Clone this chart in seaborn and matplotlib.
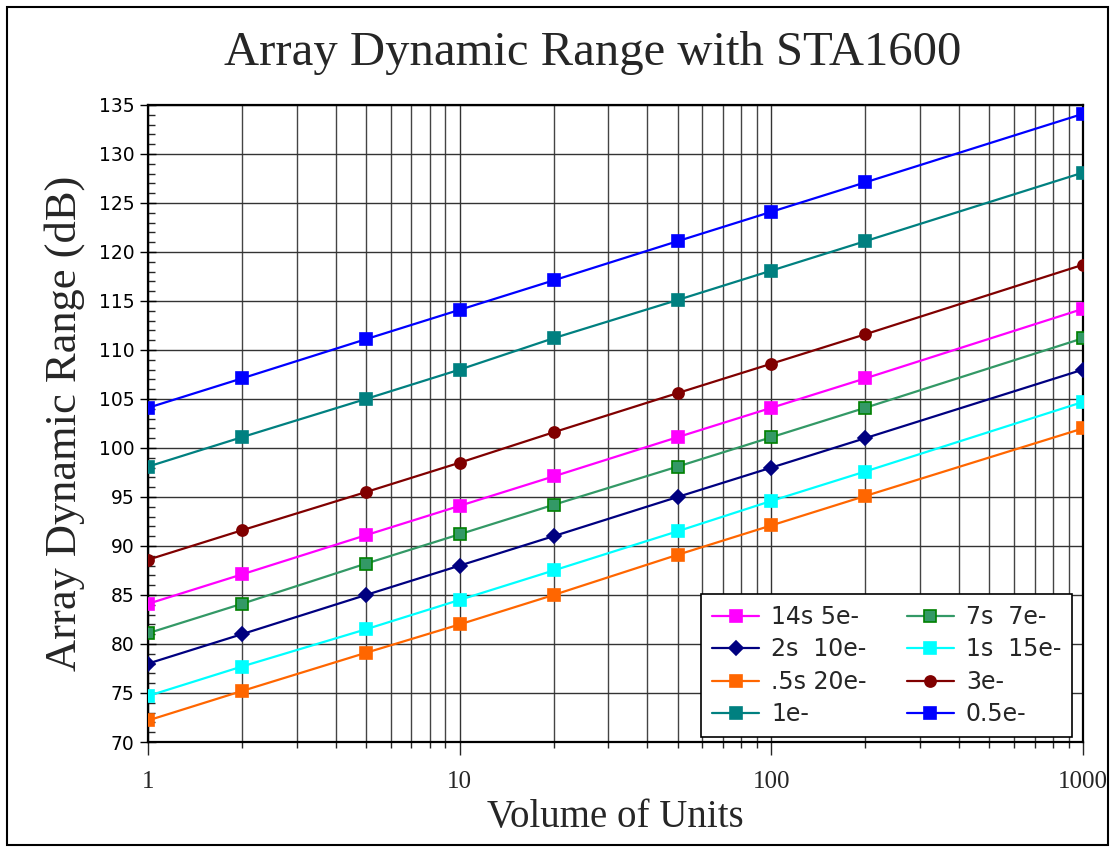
import matplotlib
matplotlib.use("Agg")
import matplotlib.pyplot as plt
import seaborn as sns
import pandas as pd
from matplotlib.ticker import LogLocator, FixedLocator, MultipleLocator, NullFormatter, FixedFormatter
from matplotlib.patches import Rectangle

units = [1, 2, 5, 10, 20, 50, 100, 200, 1000]

dr_14s_5e = [84.1, 87.1, 91.1, 94.1, 97.1, 101.1, 104.1, 107.1, 114.2]
dr_2s_10e = [78.0, 81.0, 85.0, 88.0, 91.0, 95.0, 98.0, 101.0, 108.0]
dr_05s_20e = [72.2, 75.2, 79.1, 82.0, 85.0, 89.1, 92.1, 95.1, 102.0]
dr_1e = [98.1, 101.1, 105.0, 108.0, 111.2, 115.1, 118.1, 121.1, 128.1]
dr_7s_7e = [81.1, 84.1, 88.2, 91.2, 94.2, 98.1, 101.1, 104.1, 111.2]
dr_1s_15e = [74.7, 77.7, 81.5, 84.5, 87.5, 91.5, 94.6, 97.6, 104.7]
dr_3e = [88.6, 91.6, 95.5, 98.5, 101.6, 105.6, 108.6, 111.6, 118.7]
dr_05e = [104.1, 107.1, 111.1, 114.1, 117.1, 121.1, 124.1, 127.1, 134.1]

series_names = ["14s 5e-", "2s  10e-", ".5s 20e-", "1e-", "7s  7e-", "1s  15e-", "3e-", "0.5e-"]
series_values = [dr_14s_5e, dr_2s_10e, dr_05s_20e, dr_1e, dr_7s_7e, dr_1s_15e, dr_3e, dr_05e]

x_tick_labels = ["1", "10", "100", "1000"]
y_ticks = list(range(70, 136, 5))

styles = {
    "14s 5e-": dict(color="#FF00FF", marker="s", mfc="#FF00FF", mec="#FF00FF", ms=8),
    "2s  10e-": dict(color="#000080", marker="D", mfc="#000080", mec="#000080", ms=7),
    ".5s 20e-": dict(color="#FF6600", marker="s", mfc="#FF6600", mec="#FF6600", ms=8),
    "1e-": dict(color="#008080", marker="s", mfc="#008080", mec="#008080", ms=8),
    "7s  7e-": dict(color="#339966", marker="s", mfc="#339966", mec="#008000", ms=8),
    "1s  15e-": dict(color="#00FFFF", marker="s", mfc="#00FFFF", mec="#00FFFF", ms=8),
    "3e-": dict(color="#800000", marker="o", mfc="#800000", mec="#800000", ms=8),
    "0.5e-": dict(color="#0000FF", marker="s", mfc="#0000FF", mec="#0000FF", ms=8),
}

rows = []
for name, vals in zip(series_names, series_values):
    for u, v in zip(units, vals):
        rows.append({"units": u, "dr": v, "series": name})
df = pd.DataFrame(rows)

sns.set_theme(style="white")
plt.rcParams["font.family"] = ["DejaVu Sans"]

fig = plt.figure(figsize=(11.14, 8.48), dpi=100)
ax = fig.add_axes([0.1329, 0.125, 0.9722 - 0.1329, 0.8762 - 0.125])

for name in series_names:
    st = styles[name]
    sub = df[df["series"] == name]
    sns.lineplot(data=sub, x="units", y="dr", ax=ax, color=st["color"], marker=st["marker"],
                 markerfacecolor=st["mfc"], markeredgecolor=st["mec"], markersize=st["ms"],
                 markeredgewidth=1.2, linewidth=1.6, label=name, zorder=3)

ax.set_xscale("log")
ax.set_xlim(1, 1000)
ax.set_ylim(70, 135)

ax.xaxis.set_major_locator(FixedLocator([1, 10, 100, 1000]))
ax.xaxis.set_major_formatter(FixedFormatter(x_tick_labels))
ax.xaxis.set_minor_locator(LogLocator(base=10, subs=range(2, 10)))
ax.xaxis.set_minor_formatter(NullFormatter())
ax.yaxis.set_major_locator(FixedLocator(y_ticks))
ax.yaxis.set_minor_locator(MultipleLocator(1))

ax.grid(True, which="major", axis="both", color="#333333", linewidth=1.0)
ax.grid(True, which="minor", axis="x", color="#444444", linewidth=1.0)

for sp in ax.spines.values():
    sp.set_color("black")
    sp.set_linewidth(1.6)

ax.tick_params(axis="y", which="major", direction="inout", length=12, width=1, colors="black",
               labelsize=13.5, pad=4, left=True)
ax.tick_params(axis="y", which="minor", direction="in", length=5, width=1, left=True)
ax.tick_params(axis="x", which="major", direction="out", length=9, width=1, bottom=True,
               labelsize=18, pad=12)
ax.tick_params(axis="x", which="minor", direction="out", length=4, width=1, bottom=True)
for lab in ax.get_xticklabels():
    lab.set_fontfamily("Liberation Serif")

ax.set_xlabel("Volume of Units", family="Liberation Serif", fontsize=28, labelpad=4)
ax.set_ylabel("Array Dynamic Range (dB)", family="Liberation Serif", fontsize=32, labelpad=10)
fig.text(0.532, 0.938, "Array Dynamic Range with STA1600", family="Liberation Serif",
         fontsize=35, ha="center", va="center")

leg = ax.legend(loc="lower right", ncol=2, bbox_to_anchor=(0.988, 0.008), borderaxespad=0,
                fontsize=17, frameon=True, fancybox=False, edgecolor="black", framealpha=1,
                handlelength=2.0, columnspacing=1.7, labelspacing=0.36, borderpad=0.45,
                handletextpad=0.5)
leg.get_frame().set_linewidth(1.2)

fig.patches.append(Rectangle((0.006, 0.004), 0.989, 0.988, transform=fig.transFigure,
                             fill=False, edgecolor="black", linewidth=1.5))

fig.savefig("out.png", dpi=100)
